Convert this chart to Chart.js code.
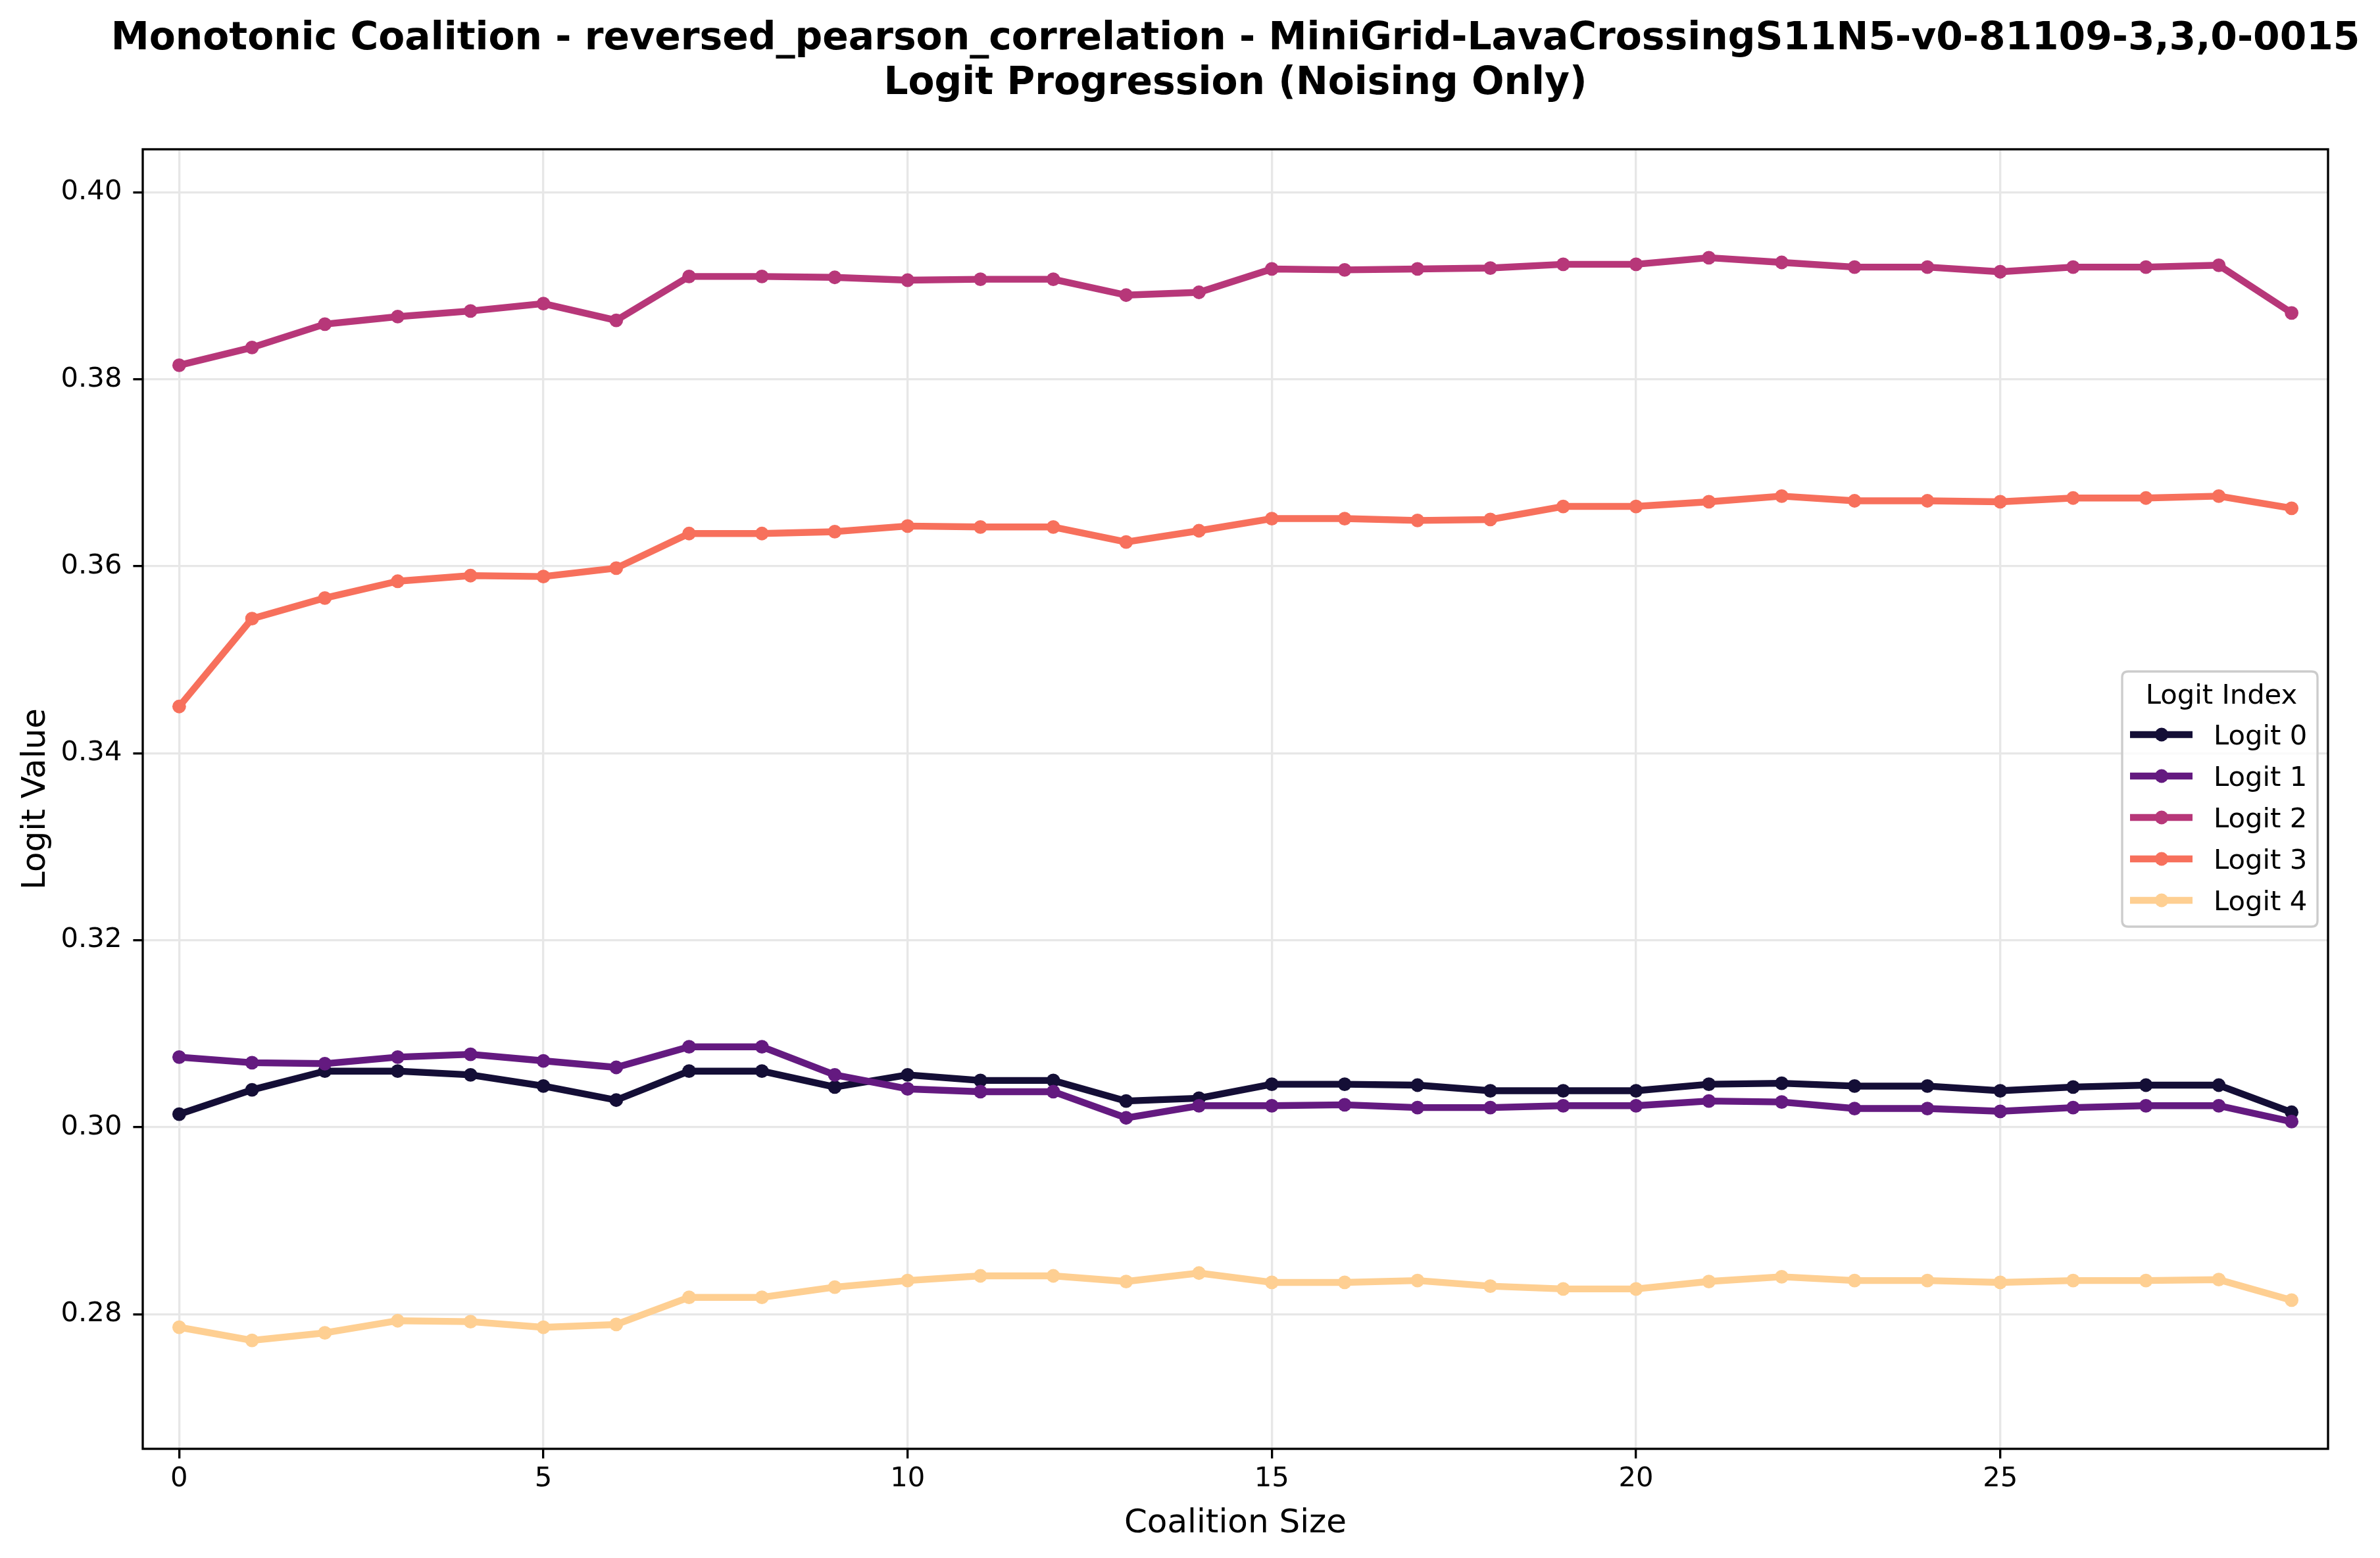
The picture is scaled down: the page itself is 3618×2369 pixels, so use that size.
<!DOCTYPE html>
<html>
<head>
<meta charset="utf-8">
<script src="https://cdn.jsdelivr.net/npm/chart.js"></script>
<style>
  html, body { margin: 0; padding: 0; background: #ffffff; }
  canvas { display: block; }
</style>
</head>
<body>
<canvas id="c" width="3618" height="2369" style="width:3618px;height:2369px"></canvas>
<script>
// ---------------- data ----------------
const coalitionSizes = [0,1,2,3,4,5,6,7,8,9,10,11,12,13,14,15,16,17,18,19,20,21,22,23,24,25,26,27,28,29];
const seriesNames = ['Logit 0', 'Logit 1', 'Logit 2', 'Logit 3', 'Logit 4'];
const logit0 = [0.3014,0.3040,0.3060,0.3060,0.3056,0.3044,0.3029,0.3060,0.3060,0.3043,0.3056,0.3050,0.3050,0.3028,0.3031,0.3046,0.3046,0.3045,0.3039,0.3039,0.3039,0.3046,0.3047,0.3044,0.3044,0.3039,0.3043,0.3045,0.3045,0.3016];
const logit1 = [0.3075,0.3069,0.3068,0.3075,0.3078,0.3071,0.3064,0.3086,0.3086,0.3056,0.3041,0.3038,0.3038,0.3010,0.3023,0.3023,0.3024,0.3021,0.3021,0.3023,0.3023,0.3028,0.3027,0.3020,0.3020,0.3017,0.3021,0.3023,0.3023,0.3006];
const logit2 = [0.3815,0.3834,0.3859,0.3867,0.3873,0.3881,0.3863,0.3910,0.3910,0.3909,0.3906,0.3907,0.3907,0.3890,0.3893,0.3918,0.3917,0.3918,0.3919,0.3923,0.3923,0.3930,0.3925,0.3920,0.3920,0.3915,0.3920,0.3920,0.3922,0.3871];
const logit3 = [0.3450,0.3544,0.3566,0.3584,0.3590,0.3589,0.3598,0.3635,0.3635,0.3637,0.3643,0.3642,0.3642,0.3626,0.3638,0.3651,0.3651,0.3649,0.3650,0.3664,0.3664,0.3669,0.3675,0.3670,0.3670,0.3669,0.3673,0.3673,0.3675,0.3662];
const logit4 = [0.2786,0.2772,0.2780,0.2793,0.2792,0.2786,0.2789,0.2818,0.2818,0.2829,0.2836,0.2841,0.2841,0.2835,0.2844,0.2834,0.2834,0.2836,0.2830,0.2827,0.2827,0.2835,0.2840,0.2836,0.2836,0.2834,0.2836,0.2836,0.2837,0.2815];
const xTickValues = [0, 5, 10, 15, 20, 25];
const yTickValues = [0.28, 0.30, 0.32, 0.34, 0.36, 0.38, 0.40];
const xRange = [-0.5, 29.5];
const yRange = [0.2656, 0.4046];
const titleLines = ['Monotonic Coalition - reversed_pearson_correlation - MiniGrid-LavaCrossingS11N5-v0-81109-3,3,0-0015', 'Logit Progression (Noising Only)'];
const xAxisTitle = 'Coalition Size';
const yAxisTitle = 'Logit Value';
const legendTitle = 'Logit Index';

// ---------------- style ----------------
const allSeries = [logit0, logit1, logit2, logit3, logit4];
const colors = ['#140e36', '#641a80', '#b73779', '#f7705c', '#fecf92'];
const FONT = "'DejaVu Sans', 'Liberation Sans', sans-serif";
const LW = 10.4;
const MR = 10.4;
const SPINE = 3.33;

const datasets = allSeries.map((vals, i) => ({
  label: seriesNames[i],
  data: coalitionSizes.map((x, j) => ({ x: x, y: vals[j] })),
  borderColor: colors[i],
  backgroundColor: colors[i],
  borderWidth: LW,
  pointRadius: MR,
  pointHoverRadius: MR,
  pointBorderWidth: 0,
  pointBackgroundColor: colors[i],
  borderJoinStyle: 'round',
  borderCapStyle: 'square',
  tension: 0,
  fill: false,
  order: allSeries.length - i
}));

const decorPlugin = {
  id: 'decor',
  afterDatasetsDraw(chart) {
    const ctx = chart.ctx;
    const a = chart.chartArea;
    ctx.save();
    // spines
    ctx.strokeStyle = '#000000';
    ctx.lineWidth = SPINE;
    ctx.strokeRect(a.left, a.top, a.right - a.left, a.bottom - a.top);

    // legend
    const lx0 = 3226, ly0 = 1021, lx1 = 3523, ly1 = 1409, r = 9;
    ctx.beginPath();
    ctx.moveTo(lx0 + r, ly0);
    ctx.lineTo(lx1 - r, ly0);
    ctx.quadraticCurveTo(lx1, ly0, lx1, ly0 + r);
    ctx.lineTo(lx1, ly1 - r);
    ctx.quadraticCurveTo(lx1, ly1, lx1 - r, ly1);
    ctx.lineTo(lx0 + r, ly1);
    ctx.quadraticCurveTo(lx0, ly1, lx0, ly1 - r);
    ctx.lineTo(lx0, ly0 + r);
    ctx.quadraticCurveTo(lx0, ly0, lx0 + r, ly0);
    ctx.closePath();
    ctx.fillStyle = 'rgba(255,255,255,0.8)';
    ctx.fill();
    ctx.strokeStyle = '#cccccc';
    ctx.lineWidth = 3.33;
    ctx.stroke();

    ctx.fillStyle = '#000000';
    ctx.font = '41.7px ' + FONT;
    ctx.textAlign = 'center';
    ctx.textBaseline = 'alphabetic';
    ctx.fillText(legendTitle, 3377, 1070);

    chart.data.datasets.forEach((ds, i) => {
      const y = 1117 + 63 * i;
      ctx.strokeStyle = ds.borderColor;
      ctx.lineWidth = LW;
      ctx.lineCap = 'butt';
      ctx.beginPath();
      ctx.moveTo(3238, y);
      ctx.lineTo(3333, y);
      ctx.stroke();
      ctx.fillStyle = ds.borderColor;
      ctx.beginPath();
      ctx.arc(3286, y, MR, 0, Math.PI * 2);
      ctx.fill();
      ctx.fillStyle = '#000000';
      ctx.textAlign = 'left';
      ctx.fillText(ds.label, 3365, y + 15);
    });

    // titles
    const cx = (a.left + a.right) / 2;
    ctx.fillStyle = '#000000';
    ctx.textAlign = 'center';
    ctx.font = 'bold 58.3px ' + FONT;
    ctx.fillText(titleLines[0], cx, 75);
    ctx.fillText(titleLines[1], cx, 143);

    ctx.font = '50px ' + FONT;
    ctx.fillText(xAxisTitle, cx, 2330);

    ctx.save();
    ctx.translate(68, (a.top + a.bottom) / 2);
    ctx.rotate(-Math.PI / 2);
    ctx.textAlign = 'center';
    ctx.fillText(yAxisTitle, 0, 0);
    ctx.restore();

    ctx.restore();
  }
};

new Chart(document.getElementById('c'), {
  type: 'line',
  data: { datasets: datasets },
  options: {
    responsive: false,
    devicePixelRatio: 1,
    animation: false,
    events: [],
    layout: { padding: { left: 0, top: 227, right: 79, bottom: 0 } },
    plugins: {
      legend: { display: false },
      title: { display: false },
      tooltip: { enabled: false }
    },
    scales: {
      x: {
        type: 'linear',
        min: xRange[0],
        max: xRange[1],
        afterBuildTicks(scale) { scale.ticks = xTickValues.map(v => ({ value: v })); },
        afterFit(scale) { scale.height = 166; },
        ticks: {
          font: { family: FONT, size: 41.7 },
          color: '#000000',
          padding: 7,
          maxRotation: 0,
          autoSkip: false,
          callback: (v) => String(v)
        },
        grid: {
          color: '#e7e7e7',
          lineWidth: 3.33,
          drawTicks: true,
          tickLength: 14.6,
          tickColor: '#000000',
          tickWidth: 3.33
        },
        border: { display: false }
      },
      y: {
        type: 'linear',
        min: yRange[0],
        max: yRange[1],
        afterBuildTicks(scale) { scale.ticks = yTickValues.map(v => ({ value: v })); },
        afterFit(scale) { scale.width = 217; },
        ticks: {
          font: { family: FONT, size: 41.7 },
          color: '#000000',
          padding: 17,
          autoSkip: false,
          callback: (v) => Number(v).toFixed(2)
        },
        grid: {
          color: '#e7e7e7',
          lineWidth: 3.33,
          drawTicks: true,
          tickLength: 14.6,
          tickColor: '#000000',
          tickWidth: 3.33
        },
        border: { display: false }
      }
    }
  },
  plugins: [decorPlugin]
});
</script>
</body>
</html>
